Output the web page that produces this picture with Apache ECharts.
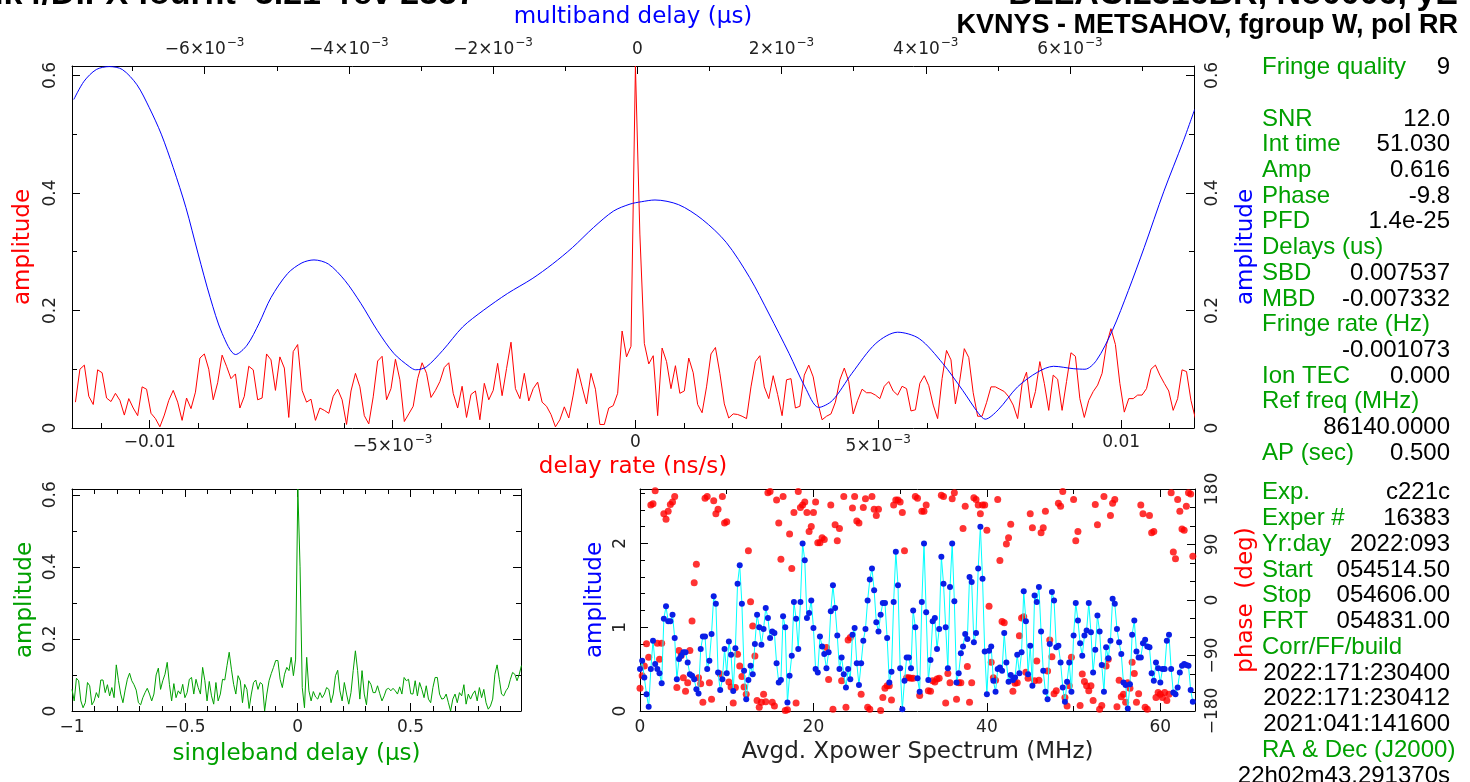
<!DOCTYPE html>
<html>
<head>
<meta charset="utf-8">
<title>fourfit fringe plot</title>
<script src="https://cdn.jsdelivr.net/npm/echarts@6/dist/echarts.min.js"></script>
<style>html,body{margin:0;padding:0;background:#fff}#main{width:1470px;height:782px}</style>
</head>
<body>
<div id="main"></div>
<script>
// ---- data ----
// delay rate spectrum (ns/s), evenly sampled, peak at index 126
var rateStep = 9.15e-5;
var ratePeakIndex = 126;
var rateAmp = [
  0.044,0.1,0.107,0.054,0.04,0.099,0.094,0.051,0.045,0.059,0.047,0.022,0.05,0.034,0.021,0.07,0.066,0.025,0.016,0.002,
  0.022,0.047,0.064,0.044,0.013,0.051,0.033,0.061,0.119,0.126,0.1,0.048,0.077,0.124,0.105,0.084,0.092,0.034,0.054,0.105,
  0.099,0.048,0.051,0.126,0.116,0.064,0.121,0.102,0.018,0.13,0.142,0.064,0.044,0.049,0.013,0.034,0.03,0.025,0.054,0.066,
  0.048,0.006,0.063,0.093,0.07,0.021,0.007,0.053,0.114,0.122,0.048,0.067,0.117,0.082,0.011,0.024,0.037,0.084,0.111,0.093,
  0.052,0.064,0.079,0.103,0.111,0.059,0.034,0.071,0.018,0.057,0.063,0.014,0.076,0.048,0.064,0.11,0.055,0.101,0.146,0.067,
  0.05,0.093,0.046,0.067,0.078,0.044,0.037,0.023,0.002,0.014,0.036,0.017,0.056,0.101,0.07,0.041,0.093,0.066,0.006,0.006,
  0.034,0.038,0.059,0.165,0.121,0.139,
  0.616,
  0.33,0.144,0.109,0.123,0.021,0.136,0.113,0.067,0.106,0.059,0.063,0.119,0.094,0.04,0.026,0.07,0.126,0.137,0.093,0.041,
  0.017,0.024,0.023,0.02,0.016,0.07,0.113,0.123,0.07,0.05,0.089,0.057,0.021,0.082,0.084,0.034,0.037,0.09,0.107,0.087,
  0.044,0.014,0.02,0.024,0.044,0.082,0.102,0.079,0.024,0.047,0.066,0.06,0.06,0.056,0.05,0.071,0.079,0.063,0.056,0.071,
  0.067,0.029,0.031,0.076,0.089,0.072,0.039,0.016,0.084,0.132,0.116,0.041,0.082,0.135,0.12,0.06,0.02,0.02,0.043,0.07,
  0.07,0.066,0.062,0.053,0.039,0.016,0.075,0.095,0.034,0.062,0.113,0.076,0.03,0.09,0.083,0.03,0.079,0.128,0.122,0.05,
  0.018,0.047,0.062,0.073,0.093,0.142,0.169,0.142,0.076,0.027,0.05,0.05,0.056,0.056,0.067,0.1,0.107,0.09,0.076,0.063,
  0.03,0.05,0.099,0.096,0.047,0.016,0.021
];

// multiband delay function (us)
var mbdX = [
  -0.007815,-0.007673,-0.007503,-0.007322,-0.007142,-0.006939,-0.006768,-0.006602,-0.006436,-0.00626,
  -0.00609,-0.005924,-0.005758,-0.005571,-0.005412,-0.005246,-0.00508,-0.004849,-0.004651,-0.004484,
  -0.004284,-0.004055,-0.003834,-0.003606,-0.003377,-0.003156,-0.003073,-0.002927,-0.002699,-0.002422,
  -0.002137,-0.001799,-0.001459,-0.001176,-0.0009,-0.000609,-0.000332,-0.000102,0.000055,0.000245,
  0.000573,0.0009,0.001232,0.001558,0.001827,0.002104,0.002325,0.002515,0.002707,0.002976,
  0.003308,0.00361,0.00391,0.004235,0.004512,0.004731,0.004824,0.005005,0.005273,0.00555,
  0.005772,0.006044,0.006208,0.006367,0.006588,0.00681,0.007029,0.007303,0.007571,0.007729
];
var mbdAmp = [
  0.559,0.59,0.61,0.615,0.61,0.584,0.545,0.5,0.443,0.375,
  0.296,0.222,0.161,0.125,0.141,0.178,0.222,0.263,0.281,0.286,
  0.279,0.251,0.212,0.166,0.127,0.104,0.099,0.104,0.132,0.172,
  0.2,0.229,0.254,0.279,0.307,0.341,0.369,0.381,0.385,0.388,
  0.38,0.355,0.316,0.256,0.194,0.127,0.07,0.035,0.047,0.093,
  0.144,0.163,0.152,0.11,0.064,0.025,0.015,0.031,0.07,0.095,
  0.105,0.101,0.1,0.115,0.166,0.234,0.307,0.403,0.488,0.542
];

// singleband delay function (us), evenly sampled from -1
var sbdStart = -1;
var sbdStep = 0.009813;
var sbdAmp = [
  0.06,0.028,0.091,0.084,0.028,0.009,0.023,0.079,0.07,0.017,0.028,0.051,0.037,0.086,0.086,0.051,0.073,0.042,0.065,0.037,
  0.128,0.084,0.047,0.023,0.058,0.088,0.105,0.084,0.073,0.058,0.023,0.017,0.037,0.051,0.063,0.047,0.028,0.047,0.1,0.119,
  0.06,0.084,0.102,0.135,0.074,0.028,0.076,0.037,0.056,0.047,0.074,0.037,0.051,0.088,0.093,0.047,0.088,0.065,0.047,0.121,
  0.084,0.028,0.082,0.042,0.019,0.079,0.028,0.047,0.088,0.086,0.126,0.163,0.116,0.074,0.047,0.098,0.084,0.023,0.074,0.06,
  0.007,0.047,0.079,0.086,0.06,0.079,0.074,0.0,0.047,0.084,0.104,0.121,0.14,0.14,0.088,0.065,0.102,0.121,0.112,0.149,
  0.098,0.144,
  0.616,
  0.4,0.065,0.009,0.149,0.056,0.028,0.054,0.039,0.033,0.051,0.037,0.047,0.065,0.06,0.023,0.047,0.098,0.113,0.056,0.028,
  0.079,0.047,0.019,0.051,0.112,0.167,0.112,0.033,0.112,0.047,0.017,0.084,0.074,0.051,0.051,0.07,0.048,0.028,0.042,0.06,
  0.063,0.056,0.063,0.056,0.047,0.067,0.047,0.093,0.084,0.088,0.048,0.047,0.084,0.042,0.079,0.06,0.037,0.07,0.033,0.023,
  0.065,0.093,0.093,0.047,0.033,0.035,0.047,0.023,0.0,0.033,0.047,0.023,0.051,0.042,0.073,0.019,0.047,0.033,0.047,0.056,
  0.028,0.065,0.037,0.06,0.023,0.005,0.014,0.033,0.102,0.128,0.088,0.047,0.042,0.056,0.065,0.088,0.107,0.102,0.084,0.102,
  0.126
];

// cross power spectrum, 0.25 MHz channels
var freqStep = 0.25;
var specAmp = [
  0.5,0.6,0.4,0.2,0.05,0.5,0.84,0.56,0.5,0.45,0.33,1.1,1.25,1.07,1.07,1.15,0.87,0.38,0.62,0.66,
  0.7,0.7,0.58,0.44,0.42,0.38,0.26,0.21,0.74,0.89,0.89,0.5,0.6,0.92,1.37,1.28,0.46,0.25,0.38,0.74,
  0.45,0.83,0.67,0.24,0.75,1.52,1.74,1.28,0.48,0.14,0.37,0.54,0.44,0.8,1.15,1.0,0.79,0.98,1.23,1.11,
  0.87,0.95,0.93,0.57,0.34,0.37,1.13,1.0,0.1,0.42,0.66,1.3,1.1,0.74,1.3,2.0,1.8,1.11,1.17,1.32,
  0.99,0.5,0.46,0.89,0.77,0.68,0.51,0.7,1.19,1.5,1.23,0.9,0.5,0.64,0.44,0.28,0.5,0.38,0.91,0.99,
  0.57,0.31,0.57,0.84,0.98,1.32,1.57,1.7,1.44,1.06,0.95,1.15,1.29,1.29,0.87,0.34,0.47,1.3,1.9,1.5,
  0.51,0.02,0.36,0.64,0.64,0.51,1.2,1.0,0.39,0.23,1.3,2.0,1.18,0.37,0.61,1.07,1.11,0.74,0.98,1.84,
  1.52,1.0,0.51,1.48,2.0,1.31,0.34,0.45,0.69,0.77,0.92,0.86,1.6,1.54,0.82,0.93,1.7,2.2,1.58,0.71,
  0.2,0.72,0.77,0.36,0.23,0.5,0.52,0.48,0.93,0.58,0.35,0.43,0.37,0.4,0.67,0.45,0.7,1.43,1.07,0.44,
  0.78,0.3,1.38,1.3,1.48,0.95,0.48,0.23,0.14,0.8,1.42,1.32,0.76,0.78,0.58,0.28,0.11,0.35,0.58,0.23,
  0.9,1.29,1.08,0.81,0.66,0.9,0.96,1.29,0.94,0.46,0.73,1.14,0.95,0.55,0.23,0.76,0.63,0.84,1.34,1.28,
  0.98,0.82,0.68,0.34,0.31,0.03,0.32,0.91,1.08,0.71,0.64,0.64,0.81,0.85,0.77,0.76,0.45,0.36,0.58,0.51,
  0.34,0.5,0.5,0.84,0.91,0.5,0.22,0.2,0.28,0.46,0.54,0.56,0.55,0.54,0.25,0.11
];
var specPhase = [
  -143,-123,-107,-71,-93,154,156,177,-70,-96,-70,140,131,144,155,159,168,-142,-82,-90,
  -126,-148,-134,-82,-34,28,58,-126,-136,-166,165,168,-134,-161,161,140,147,-120,168,125,
  127,-133,-141,-167,-142,-88,-107,-124,-141,-153,80,-3,-42,-91,-163,-174,-166,-153,-165,174,
  176,-166,-172,162,125,66,168,-179,-178,107,51,142,-167,176,150,154,159,142,111,119,
  142,159,93,93,101,98,-77,-129,154,-177,122,96,116,-131,168,-174,-65,-61,149,168,
  128,125,-153,150,164,-174,-177,168,147,137,147,-179,-158,-143,-139,-139,-162,154,162,162,
  159,142,80,-126,-126,-127,-127,168,165,-155,144,144,154,-147,-148,-131,-133,-128,-127,170,
  168,-167,-119,-134,164,174,-161,-134,-134,116,152,-108,-166,-134,166,163,154,140,154,154,
  113,-10,-101,-126,-130,163,64,-35,-37,91,101,123,-148,-135,-134,-58,-29,-27,-117,-127,
  140,117,-131,-99,-130,109,117,144,-115,-65,-92,-152,-147,157,152,176,-158,-172,-139,-93,
  163,96,111,-171,-120,-132,-139,-147,-139,-163,155,122,-177,-171,168,-107,-96,137,157,163,
  -173,-130,-157,-153,-166,-134,-143,-101,-119,-166,-152,154,140,-174,-177,137,109,111,-158,-150,
  -153,-158,-150,-163,-153,174,78,67,163,144,115,113,152,174,172,71
];

// tick positions / labels
var rateTicks = [-0.01, -0.005, 0, 0.005, 0.01];
var rateMinor = [-0.011,-0.009,-0.008,-0.007,-0.006,-0.004,-0.003,-0.002,-0.001,0.001,0.002,0.003,0.004,0.006,0.007,0.008,0.009,0.011];
var mbdTicks = [-0.006, -0.004, -0.002, 0, 0.002, 0.004, 0.006];
var mbdMinor = [-0.007, -0.005, -0.003, -0.001, 0.001, 0.003, 0.005, 0.007];
var ampTicks = [0, 0.2, 0.4, 0.6];
var ampMinor = [0.1, 0.3, 0.5];
var sbdTicks = [-1, -0.5, 0, 0.5];
var sbdMinor = [-0.9,-0.8,-0.7,-0.6,-0.4,-0.3,-0.2,-0.1,0.1,0.2,0.3,0.4,0.6,0.7,0.8,0.9];
var freqTicks = [0, 20, 40, 60];
var freqMinor = [10, 30, 50];
var specTicks = [0, 1, 2];
var specMinor = [0.2,0.4,0.6,0.8,1.2,1.4,1.6,1.8,2.2,2.4,2.6];
var phaseTicks = [-180, -90, 0, 90, 180];
var phaseMinor = [-150, -120, -60, -30, 30, 60, 120, 150];

var titleLeft = 'Mk4/DiFX fourfit  3.21  rev 2357';
var titleRight = 'BLLAC.2316BR, No0006, yE';
var subTitle = 'KVNYS - METSAHOV, fgroup W, pol RR';
var infoTop = [
  ['Fringe quality', '9'], ['', ''], ['SNR', '12.0'], ['Int time', '51.030'], ['Amp', '0.616'],
  ['Phase', '-9.8'], ['PFD', '1.4e-25'], ['Delays (us)', ''], ['SBD', '0.007537'], ['MBD', '-0.007332'],
  ['Fringe rate (Hz)', ''], ['', '-0.001073'], ['Ion TEC', '0.000'], ['Ref freq (MHz)', ''],
  ['', '86140.0000'], ['AP (sec)', '0.500']
];
var infoBottom = [
  ['Exp.', 'c221c'], ['Exper #', '16383'], ['Yr:day', '2022:093'], ['Start', '054514.50'],
  ['Stop', '054606.00'], ['FRT', '054831.00'], ['Corr/FF/build', ''], ['', '2022:171:230400'],
  ['', '2022:171:230412'], ['', '2021:041:141600'], ['RA & Dec (J2000)', ''], ['', '22h02m43.291370s']
];

// ---- chart ----
var RED = '#ff0000', BLUE = '#0000ff', GREEN = '#00a000';
var FONT = 'DejaVu Sans';
var RICH = {
  m: { fontFamily: FONT, fontSize: 17, color: '#222', verticalAlign: 'bottom' },
  s: { fontFamily: FONT, fontSize: 12, color: '#222', verticalAlign: 'bottom', padding: [0, 0, 9, 1] }
};

function minus(s) { return String(s).replace('-', '\u2212'); }
function sciLabel(v) {
  if (Math.abs(v) < 1e-12) return '0';
  var sign = v < 0 ? '\u2212' : '';
  var a = Math.abs(v);
  if (a >= 0.00999) return sign + String(+a.toFixed(4));
  var e = Math.floor(Math.log10(a) + 1e-9);
  var m = Math.round(a / Math.pow(10, e));
  return '{m|' + sign + m + '\u00d710}{s|\u2212' + (-e) + '}';
}

var xAxes = [], yAxes = [];
// adds a labelled axis plus an overlay for the short minor ticks, returns index of the main one
function addAxes(list, grid, pos, min, max, major, minor, opt) {
  opt = opt || {};
  var vertical = (pos === 'left' || pos === 'right');
  var main = {
    type: 'value', gridIndex: grid, position: pos, min: min, max: max,
    splitLine: { show: false },
    axisLine: { show: true, onZero: false, lineStyle: { color: '#000', width: 1 } },
    axisTick: { show: true, inside: true, length: 8, customValues: major, lineStyle: { color: '#000', width: 1 } },
    axisLabel: opt.label ? {
      show: true, customValues: major, formatter: opt.formatter || minus,
      rotate: vertical ? 90 : 0, margin: opt.margin,
      color: '#222', fontFamily: FONT, fontSize: 17, rich: RICH
    } : { show: false }
  };
  if (opt.name) {
    main.name = opt.name;
    main.nameLocation = 'middle';
    main.nameGap = opt.nameGap;
    if (vertical) main.nameRotate = 90;
    main.nameTextStyle = { color: opt.nameColor, fontFamily: FONT, fontSize: 23 };
  }
  list.push(main);
  var idx = list.length - 1;
  list.push({
    type: 'value', gridIndex: grid, position: pos, min: min, max: max,
    splitLine: { show: false }, axisLine: { show: false, onZero: false },
    axisTick: { show: true, inside: true, length: 5, customValues: minor, lineStyle: { color: '#000', width: 1 } },
    axisLabel: { show: false }
  });
  return idx;
}

var AMP_MAX = 0.616;
// top panel (grid 0)
var xRate = addAxes(xAxes, 0, 'bottom', -0.0116, 0.0115, rateTicks, rateMinor,
  { label: true, formatter: sciLabel, margin: 6, name: 'delay rate (ns/s)', nameGap: 27, nameColor: RED });
var xMbd = addAxes(xAxes, 0, 'top', -0.00784, 0.00772, mbdTicks, mbdMinor,
  { label: true, formatter: sciLabel, margin: 8, name: 'multiband delay (\u03bcs)', nameGap: 37, nameColor: BLUE });
var yTopL = addAxes(yAxes, 0, 'left', 0, AMP_MAX, ampTicks, ampMinor,
  { label: true, margin: 13, name: 'amplitude', nameGap: 35, nameColor: RED });
addAxes(yAxes, 0, 'right', 0, AMP_MAX, ampTicks, ampMinor,
  { label: true, margin: 10, name: 'amplitude', nameGap: 41, nameColor: BLUE });

// bottom-left panel (grid 1)
var xSbd = addAxes(xAxes, 1, 'bottom', -1, 0.99, sbdTicks, sbdMinor,
  { label: true, margin: 8, name: 'singleband delay (\u03bcs)', nameGap: 32, nameColor: GREEN });
addAxes(xAxes, 1, 'top', -1, 0.99, sbdTicks, sbdMinor, {});
var ySbd = addAxes(yAxes, 1, 'left', 0, AMP_MAX, ampTicks, ampMinor,
  { label: true, margin: 13, name: 'amplitude', nameGap: 35, nameColor: GREEN });
addAxes(yAxes, 1, 'right', 0, AMP_MAX, ampTicks, ampMinor, {});

// bottom-right panel (grid 2)
var xFreq = addAxes(xAxes, 2, 'bottom', 0, 64, freqTicks, freqMinor,
  { label: true, margin: 8, name: 'Avgd. Xpower Spectrum (MHz)', nameGap: 30, nameColor: '#222' });
addAxes(xAxes, 2, 'top', 0, 64, freqTicks, freqMinor, {});
var ySpec = addAxes(yAxes, 2, 'left', 0, 2.65, specTicks, specMinor,
  { label: true, margin: 11, name: 'amplitude', nameGap: 33, nameColor: BLUE });
var yPhase = addAxes(yAxes, 2, 'right', -180, 180, phaseTicks, phaseMinor,
  { label: true, margin: 9, name: 'phase  (deg)', nameGap: 40, nameColor: RED });

var graphics = [
  { type: 'text', x: 476, y: -5, style: { text: titleLeft, font: 'bold 34px "Liberation Sans"', fill: '#000', align: 'right', verticalAlign: 'middle' } },
  { type: 'text', x: 1458, y: -5, style: { text: titleRight, font: 'bold 34px "Liberation Sans"', fill: '#000', align: 'right', verticalAlign: 'middle' } },
  { type: 'text', x: 1458, y: 26, style: { text: subTitle, font: 'bold 27px "Liberation Sans"', fill: '#000', align: 'right', verticalAlign: 'middle' } }
];
function addInfo(rows, y0, step) {
  rows.forEach(function (r, i) {
    var y = y0 + i * step;
    if (r[0]) graphics.push({ type: 'text', x: 1262, y: y, style: { text: r[0], font: '24px "Liberation Sans"', fill: GREEN, align: 'left', verticalAlign: 'middle' } });
    if (r[1]) graphics.push({ type: 'text', x: 1450, y: y, style: { text: r[1], font: '24px "Liberation Sans"', fill: '#000', align: 'right', verticalAlign: 'middle' } });
  });
}
addInfo(infoTop, 67.6, 25.7);
addInfo(infoBottom, 492.7, 25.75);

var chart = echarts.init(document.getElementById('main'));
chart.setOption({
  animation: false,
  backgroundColor: '#fff',
  grid: [
    { left: 72, top: 66, width: 1122, height: 362 },
    { left: 72, top: 489, width: 449, height: 222 },
    { left: 640, top: 489, width: 555, height: 222 }
  ],
  xAxis: xAxes,
  yAxis: yAxes,
  graphic: graphics,
  series: [
    {
      type: 'line', xAxisIndex: xRate, yAxisIndex: yTopL, showSymbol: false,
      lineStyle: { color: RED, width: 1 },
      data: rateAmp.map(function (v, i) { return [(i - ratePeakIndex) * rateStep, v]; })
    },
    {
      type: 'line', xAxisIndex: xMbd, yAxisIndex: yTopL, showSymbol: false, smooth: 0.3,
      lineStyle: { color: BLUE, width: 1 },
      data: mbdX.map(function (x, i) { return [x, mbdAmp[i]]; })
    },
    {
      type: 'line', xAxisIndex: xSbd, yAxisIndex: ySbd, showSymbol: false,
      lineStyle: { color: GREEN, width: 1 },
      data: sbdAmp.map(function (v, i) { return [sbdStart + i * sbdStep, v]; })
    },
    {
      type: 'line', xAxisIndex: xFreq, yAxisIndex: ySpec, symbol: 'circle', symbolSize: 6, showAllSymbol: true,
      lineStyle: { color: '#00ffff', width: 1 },
      itemStyle: { color: '#0a1ee6', borderWidth: 0 },
      data: specAmp.map(function (v, i) { return [i * freqStep, v]; })
    },
    {
      type: 'scatter', xAxisIndex: xFreq, yAxisIndex: yPhase, symbolSize: 7,
      itemStyle: { color: RED },
      data: specPhase.map(function (v, i) { return [i * freqStep, v]; })
    }
  ]
});
</script>
</body>
</html>
